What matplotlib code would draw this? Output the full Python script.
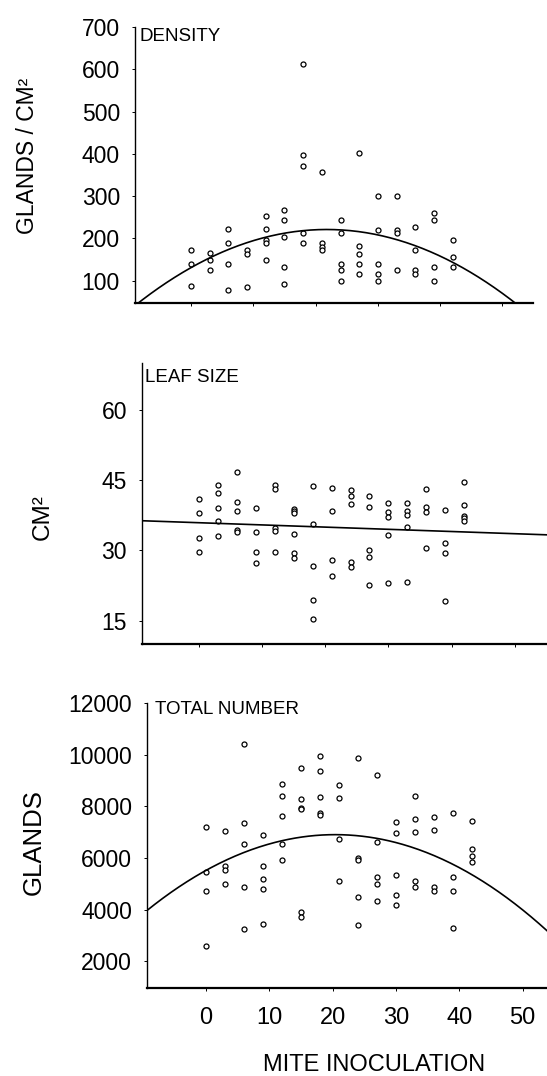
import numpy as np
import matplotlib.pyplot as plt

plt.rcParams['font.family'] = ['Liberation Sans', 'DejaVu Sans']

# mite inoculation levels (one column of points per level)
doses = [0, 3, 6, 9, 12, 15, 18, 21, 24, 27, 30, 33, 36, 39, 42]

# glands / cm2
density = [
    [173, 140, 87],
    [166, 149, 125],
    [221, 189, 140, 77],
    [173, 164, 85],
    [252, 221, 197, 188, 148],
    [268, 244, 204, 132, 93],
    [612, 396, 372, 213, 188],
    [357, 188, 180, 172],
    [244, 212, 139, 124, 100],
    [403, 181, 164, 139, 116],
    [300, 220, 139, 116, 100],
    [300, 220, 212, 124],
    [227, 172, 124, 116],
    [259, 243, 132, 100],
    [195, 155, 132],
]

# leaf size, cm2
leaf = [
    [41.0, 38.0, 32.7, 29.6],
    [43.9, 42.2, 39.1, 36.3, 33.0],
    [46.7, 40.4, 38.5, 34.3, 33.9],
    [39.1, 34.0, 29.6, 27.2],
    [43.9, 43.2, 34.7, 34.1, 29.6],
    [38.8, 38.4, 38.0, 33.5, 29.4, 28.4],
    [43.7, 35.6, 26.6, 19.5, 15.3],
    [43.4, 38.3, 27.9, 24.6],
    [42.9, 41.6, 39.9, 27.6, 26.5],
    [41.7, 39.3, 30.1, 28.5, 22.7],
    [40.1, 38.2, 37.1, 33.2, 23.0],
    [40.1, 38.3, 37.6, 34.9, 23.2],
    [43.2, 39.2, 38.1, 30.6],
    [38.6, 31.5, 29.4, 19.1],
    [44.7, 39.7, 37.3, 36.8, 36.3],
]

# total number of glands
total = [
    [7200, 5460, 4720, 2610],
    [7060, 5670, 5540, 5010],
    [10430, 7360, 6560, 4890, 3240],
    [6880, 5690, 5200, 4790, 3430],
    [8870, 8380, 7630, 6540, 5920],
    [9500, 8280, 7950, 7890, 3900, 3720],
    [9950, 9370, 8350, 7740, 7670],
    [8810, 8320, 6720, 5120],
    [9860, 5980, 5920, 4490, 3400],
    [9230, 6600, 5250, 5010, 4350],
    [7410, 6960, 5330, 4580, 4180],
    [8400, 7520, 7020, 5120, 4890],
    [7590, 7090, 4890, 4720],
    [7740, 5250, 4740, 3290],
    [7430, 6360, 6080, 5850],
]

# fitted curves, coefficients c0 + c1*x + c2*x^2
density_fit = [130.7, 8.28, -0.19]
leaf_fit = [35.9, -0.047, 0.0]
total_fit = [5520, 135.5, -3.32]

panels = [
    dict(data=density, fit=density_fit, title='DENSITY', ylabel='GLANDS / CM²', labsize=16.5,
         rect=[0.2459, 0.7184, 0.7285, 0.2565], xlim=(-9.07, 54.9), ylim=(47, 700),
         yticks=[100, 200, 300, 400, 500, 600, 700], lab=(0.050, 0.855), toff=(5, -1)),
    dict(data=leaf, fit=leaf_fit, title='LEAF SIZE', ylabel='CM²', labsize=17.5,
         rect=[0.2590, 0.4015, 0.7410, 0.2611], xlim=(-9.02, 55.07), ylim=(10, 70),
         yticks=[15, 30, 45, 60], lab=(0.078, 0.519), toff=(3, -6)),
    dict(data=total, fit=total_fit, title='TOTAL NUMBER', ylabel='GLANDS', labsize=18.5,
         rect=[0.2682, 0.0818, 0.7318, 0.2649], xlim=(-9.37, 53.87), ylim=(968, 12000),
         yticks=[2000, 4000, 6000, 8000, 10000, 12000], lab=(0.062, 0.2175), toff=(8, 2)),
]

fig = plt.figure(figsize=(5.47, 10.76), dpi=100)

for i, p in enumerate(panels):
    ax = fig.add_axes(p['rect'])
    xs = [d for d, col in zip(doses, p['data']) for _ in col]
    ys = [v for col in p['data'] for v in col]
    ax.plot(xs, ys, 'o', mfc='white', mec='black', ms=3.6, mew=0.9, clip_on=False)
    xx = np.linspace(p['xlim'][0], p['xlim'][1], 300)
    c0, c1, c2 = p['fit']
    ax.plot(xx, c0 + c1 * xx + c2 * xx ** 2, color='black', lw=1.2)
    ax.set_xlim(p['xlim'])
    ax.set_ylim(p['ylim'])
    ax.set_xticks([0, 10, 20, 30, 40, 50])
    ax.set_yticks(p['yticks'])
    ax.spines['top'].set_visible(False)
    ax.spines['right'].set_visible(False)
    ax.spines['left'].set_linewidth(1.0)
    ax.spines['bottom'].set_linewidth(1.6)
    ax.tick_params(axis='y', length=2.5, width=0.7, pad=8, labelsize=16.5)
    ax.tick_params(axis='x', length=2.5, width=0.7, pad=11, labelsize=17)
    if i < 2:
        ax.tick_params(axis='x', labelbottom=False)
    ax.annotate(p['title'], xy=(0, 1), xycoords='axes fraction',
                xytext=p['toff'], textcoords='offset pixels',
                ha='left', va='top', fontsize=13.5)
    fig.text(p['lab'][0], p['lab'][1], p['ylabel'], rotation=90,
             ha='center', va='center', fontsize=p['labsize'])

fig.text(0.684, 0.0045, 'MITE INOCULATION', ha='center', va='baseline', fontsize=17)

fig.savefig('out.png', dpi=100)
